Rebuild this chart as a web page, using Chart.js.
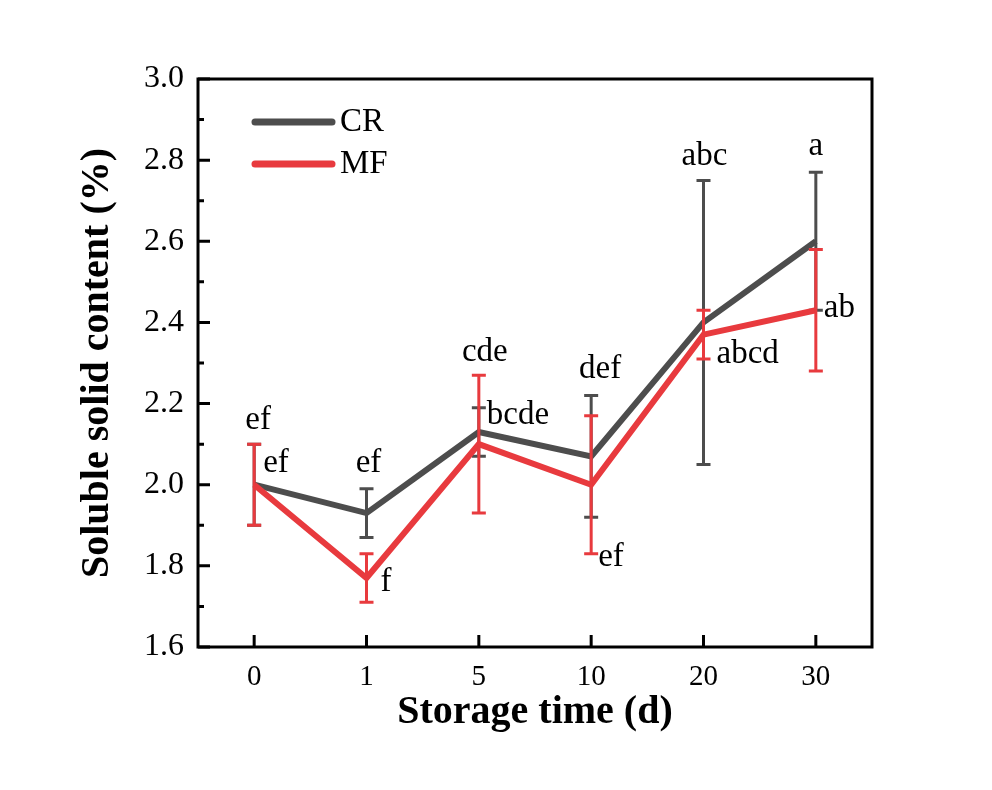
<!DOCTYPE html>
<html>
<head>
<meta charset="utf-8">
<script src="https://cdn.jsdelivr.net/npm/chart.js@4"></script>
<style>
  html, body { margin: 0; padding: 0; background: #fff; }
  canvas { display: block; }
</style>
</head>
<body>
<canvas id="chart" width="992" height="790"></canvas>
<script>
// data
const days = ['0', '1', '5', '10', '20', '30'];
const crMean = [2.00, 1.93, 2.13, 2.07, 2.40, 2.60];
const crErr = [0.10, 0.06, 0.06, 0.15, 0.35, 0.17];
const mfMean = [2.00, 1.77, 2.10, 2.00, 2.37, 2.43];
const mfErr = [0.10, 0.06, 0.17, 0.17, 0.06, 0.15];
const crLetters = ['ef', 'ef', 'bcde', 'def', 'abc', 'a'];
const mfLetters = ['ef', 'f', 'cde', 'ef', 'abcd', 'ab'];
const yTicks = [1.6, 1.8, 2.0, 2.2, 2.4, 2.6, 2.8, 3.0];

const GRAY = '#4d4d4d';
const RED = '#e83a3e';
const SERIF = '"Liberation Serif", "Times New Roman", serif';

// where each letter sits: anchor on the bar (top / bottom / mean) + pixel nudge
const crPlace = [
  { at: 'top', dx: 4, dy: -24, align: 'center' },
  { at: 'top', dx: 2, dy: -25, align: 'center' },
  { at: 'top', dx: 8, dy: 8, align: 'left' },
  { at: 'top', dx: 9, dy: -26, align: 'center' },
  { at: 'top', dx: 1, dy: -24, align: 'center' },
  { at: 'top', dx: 0, dy: -26, align: 'center' },
];
const mfPlace = [
  { at: 'mean', dx: 9, dy: -21, align: 'left' },
  { at: 'mean', dx: 14, dy: 4, align: 'left' },
  { at: 'top', dx: 6, dy: -23, align: 'center' },
  { at: 'bottom', dx: 7, dy: 4, align: 'left' },
  { at: 'bottom', dx: 13, dy: -5, align: 'left' },
  { at: 'mean', dx: 8, dy: -2, align: 'left' },
];

const series = [
  { label: 'CR', mean: crMean, err: crErr, letters: crLetters, place: crPlace, color: GRAY },
  { label: 'MF', mean: mfMean, err: mfErr, letters: mfLetters, place: mfPlace, color: RED },
];

function drawErrBars(chart, s) {
  const { ctx, scales: { x, y } } = chart;
  ctx.save();
  ctx.strokeStyle = s.color;
  ctx.lineWidth = 3;
  ctx.lineCap = 'butt';
  s.mean.forEach((m, i) => {
    const px = x.getPixelForValue(i);
    const top = y.getPixelForValue(m + s.err[i]);
    const bot = y.getPixelForValue(m - s.err[i]);
    ctx.beginPath();
    ctx.moveTo(px, top); ctx.lineTo(px, bot);
    ctx.moveTo(px - 7, top); ctx.lineTo(px + 7, top);
    ctx.moveTo(px - 7, bot); ctx.lineTo(px + 7, bot);
    ctx.stroke();
  });
  ctx.restore();
}

const errorBars = {
  id: 'errorBars',
  afterDatasetDraw(chart, args) {
    const s = series.find(v => v.label === args.meta.label);
    if (s) drawErrBars(chart, s);
  },
};

const frameAndTicks = {
  id: 'frameAndTicks',
  afterDraw(chart) {
    const { ctx, chartArea: a, scales: { x, y } } = chart;
    ctx.save();
    ctx.strokeStyle = '#000';
    ctx.lineWidth = 3;
    // inward major/minor ticks on left axis
    ctx.beginPath();
    yTicks.forEach((v, i) => {
      const py = y.getPixelForValue(v);
      ctx.moveTo(a.left, py); ctx.lineTo(a.left + 12, py);
      if (i < yTicks.length - 1) {
        const pm = y.getPixelForValue((v + yTicks[i + 1]) / 2);
        ctx.moveTo(a.left, pm); ctx.lineTo(a.left + 6, pm);
      }
    });
    days.forEach((d, i) => {
      const px = x.getPixelForValue(i);
      ctx.moveTo(px, a.bottom); ctx.lineTo(px, a.bottom - 12);
    });
    ctx.stroke();
    ctx.strokeRect(a.left, a.top, a.right - a.left, a.bottom - a.top);
    ctx.restore();
  },
};

const letters = {
  id: 'letters',
  afterDraw(chart) {
    const { ctx, scales: { x, y } } = chart;
    ctx.save();
    ctx.fillStyle = '#000';
    ctx.font = '33px ' + SERIF;
    ctx.textBaseline = 'middle';
    series.forEach(s => {
      s.letters.forEach((t, i) => {
        const p = s.place[i];
        let v = s.mean[i];
        if (p.at === 'top') v += s.err[i];
        if (p.at === 'bottom') v -= s.err[i];
        ctx.textAlign = p.align;
        ctx.fillText(t, x.getPixelForValue(i) + p.dx, y.getPixelForValue(v) + p.dy);
      });
    });
    ctx.restore();
  },
};

const legendBox = {
  id: 'legendBox',
  afterDraw(chart) {
    const { ctx, chartArea: a } = chart;
    ctx.save();
    ctx.font = '33px ' + SERIF;
    ctx.textBaseline = 'middle';
    ctx.textAlign = 'left';
    chart.data.datasets.forEach((ds, i) => {
      const yy = a.top + 43 + i * 42;
      ctx.strokeStyle = ds.borderColor;
      ctx.lineWidth = 7;
      ctx.lineCap = 'round';
      ctx.beginPath();
      ctx.moveTo(a.left + 57, yy); ctx.lineTo(a.left + 134, yy);
      ctx.stroke();
      ctx.fillStyle = '#000';
      ctx.fillText(ds.label, a.left + 142, yy);
    });
    ctx.restore();
  },
};

new Chart(document.getElementById('chart'), {
  type: 'line',
  data: {
    labels: days,
    datasets: series.map((s, i) => ({
      label: s.label,
      data: s.mean,
      borderColor: s.color,
      backgroundColor: s.color,
      borderWidth: 6,
      pointRadius: 0,
      tension: 0,
      order: series.length - i,
    })),
  },
  options: {
    responsive: false,
    animation: false,
    layout: { padding: { left: 0, top: 79, right: 120, bottom: 0 } },
    plugins: { legend: { display: false }, tooltip: { enabled: false } },
    scales: {
      x: {
        type: 'category',
        offset: true,
        grid: { display: false, drawTicks: false },
        border: { display: false },
        ticks: { color: '#000', font: { family: SERIF, size: 29 }, padding: 13 },
        title: {
          display: true, text: 'Storage time (d)', color: '#000',
          font: { family: SERIF, size: 40, weight: 'bold' },
          padding: { top: 0, bottom: 53 },
        },
        afterFit(scale) { scale.height = 143; },
      },
      y: {
        min: 1.6,
        max: 3.0,
        afterBuildTicks(scale) { scale.ticks = yTicks.map(v => ({ value: v })); },
        grid: { display: false, drawTicks: false },
        border: { display: false },
        ticks: {
          color: '#000', font: { family: SERIF, size: 32 }, padding: 14,
          callback: v => Number(v).toFixed(1),
        },
        title: {
          display: true, text: 'Soluble solid content (%)', color: '#000',
          font: { family: SERIF, size: 40, weight: 'bold' },
          padding: { top: 74, bottom: 0 },
        },
        afterFit(scale) { scale.width = 198; },
      },
    },
  },
  plugins: [errorBars, frameAndTicks, letters, legendBox],
});
</script>
</body>
</html>
